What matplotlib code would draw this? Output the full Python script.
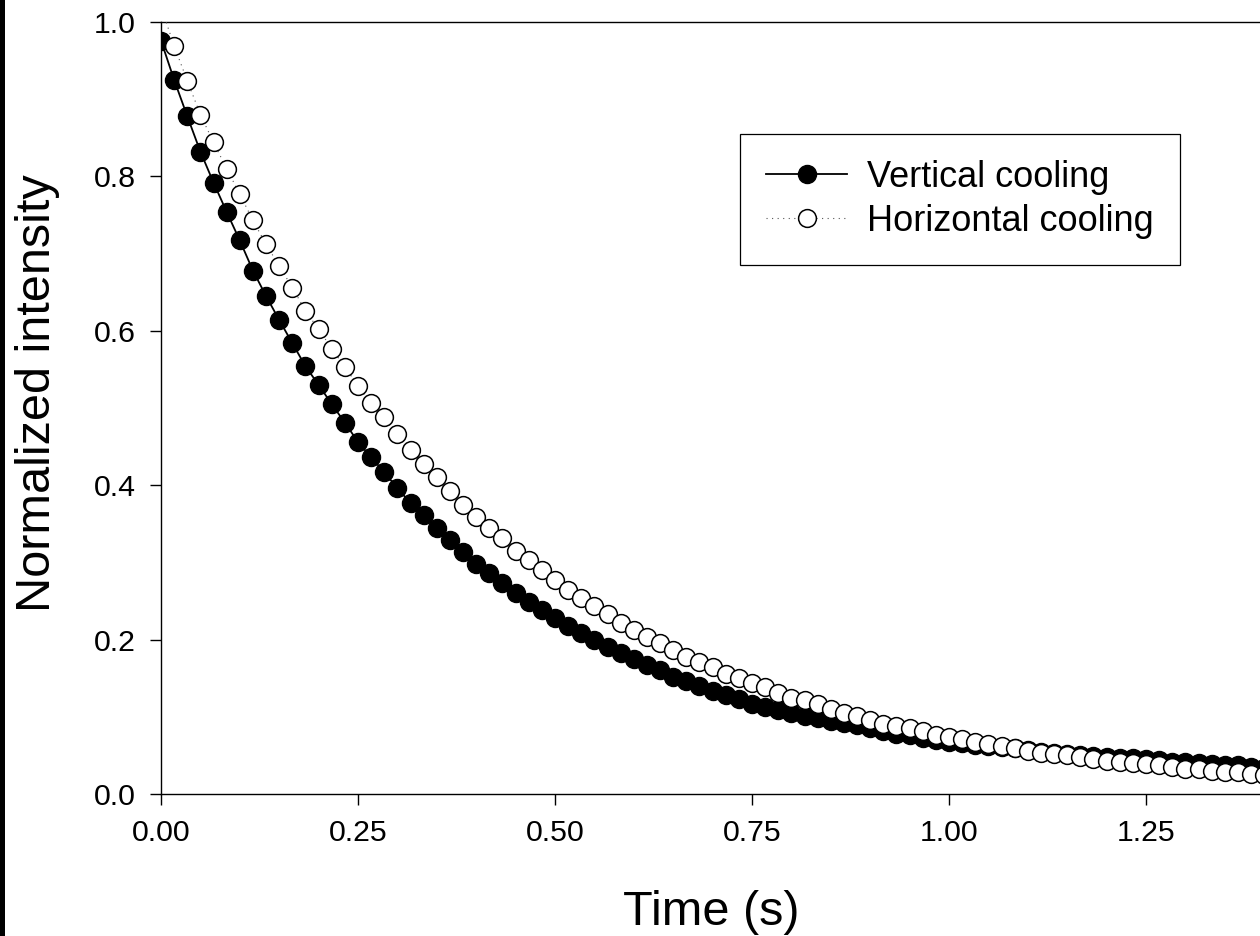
import numpy as np
import matplotlib
matplotlib.use("Agg")
import matplotlib.pyplot as plt
from matplotlib.patches import Rectangle
from matplotlib.ticker import FormatStrFormatter

# Normalized intensity recorded frame by frame (60 frames per second)
frame_rate = 60

vertical_cooling = [
    0.976, 0.925, 0.878, 0.832, 0.792, 0.754, 0.717, 0.678, 0.645, 0.614,
    0.584, 0.554, 0.530, 0.505, 0.481, 0.456, 0.436, 0.417, 0.396, 0.377,
    0.361, 0.344, 0.329, 0.313, 0.298, 0.286, 0.273, 0.260, 0.249, 0.238,
    0.228, 0.217, 0.208, 0.200, 0.191, 0.182, 0.175, 0.167, 0.160, 0.152,
    0.146, 0.140, 0.134, 0.128, 0.123, 0.117, 0.113, 0.109, 0.105, 0.101,
    0.098, 0.095, 0.092, 0.089, 0.085, 0.081, 0.078, 0.076, 0.073, 0.070,
    0.068, 0.066, 0.064, 0.062, 0.061, 0.059, 0.057, 0.055, 0.053, 0.052,
    0.050, 0.049, 0.048, 0.047, 0.046, 0.045, 0.044, 0.042, 0.041, 0.040,
    0.039, 0.038, 0.037, 0.035, 0.034,
]

horizontal_cooling = [
    1.020, 0.969, 0.924, 0.880, 0.844, 0.810, 0.777, 0.743, 0.712, 0.684,
    0.656, 0.626, 0.602, 0.577, 0.553, 0.529, 0.507, 0.488, 0.466, 0.445,
    0.427, 0.411, 0.393, 0.375, 0.359, 0.345, 0.331, 0.315, 0.303, 0.290,
    0.277, 0.264, 0.254, 0.244, 0.233, 0.222, 0.213, 0.204, 0.195, 0.186,
    0.178, 0.171, 0.164, 0.156, 0.150, 0.144, 0.138, 0.131, 0.125, 0.122,
    0.116, 0.110, 0.105, 0.101, 0.096, 0.091, 0.088, 0.085, 0.081, 0.077,
    0.074, 0.071, 0.068, 0.065, 0.062, 0.060, 0.056, 0.053, 0.052, 0.050,
    0.048, 0.045, 0.043, 0.042, 0.040, 0.039, 0.037, 0.035, 0.033, 0.032,
    0.030, 0.029, 0.028, 0.026, 0.025,
]

time_s = np.arange(len(vertical_cooling)) / frame_rate

x_ticks = [0.0, 0.25, 0.50, 0.75, 1.00, 1.25]
y_ticks = [0.0, 0.2, 0.4, 0.6, 0.8, 1.0]

plt.rcParams["font.family"] = ["Liberation Sans", "DejaVu Sans"]

W, H = 1260, 936
fig = plt.figure(figsize=(W / 100, H / 100), dpi=100)
fig.patch.set_facecolor("white")

# axes box in pixel terms: left 161, top 22, bottom 794, 788 px per second
x0, y_top, y_bot = 161, 22, 794
px_per_s = 788
xmax = 1.4
ax = fig.add_axes([x0 / W, (H - y_bot) / H, xmax * px_per_s / W, (y_bot - y_top) / H])

ax.plot(time_s, vertical_cooling, color="black", lw=1.3, ls="-",
        marker="o", ms=13.0, mfc="black", mec="black", mew=1.0,
        label="Vertical cooling", zorder=3)
ax.plot(time_s, horizontal_cooling, color="#555555", lw=0.8, ls=(0, (1, 4)),
        marker="o", ms=12.8, mfc="white", mec="black", mew=1.1,
        markevery=slice(1, None), label="Horizontal cooling", zorder=4)

ax.set_xlim(0, xmax)
ax.set_ylim(0, 1.0)
ax.set_xticks(x_ticks)
ax.set_yticks(y_ticks)
ax.xaxis.set_major_formatter(FormatStrFormatter("%.2f"))
ax.yaxis.set_major_formatter(FormatStrFormatter("%.1f"))
ax.tick_params(axis="both", direction="out", length=8, width=1.0,
               labelsize=21.8, pad=10, color="black")
for side in ("left", "bottom", "top", "right"):
    ax.spines[side].set_linewidth(1.0)
    ax.spines[side].set_color("black")

fig.text(711 / W, (H - 925) / H, "Time (s)", fontsize=35,
         ha="center", va="baseline")
fig.text(38 / W, (H - 393) / H, "Normalized intensity", fontsize=35,
         rotation=90, ha="center", va="center")

leg = ax.legend(loc="upper left", bbox_to_anchor=(740 / W, (H - 134) / H),
                bbox_transform=fig.transFigure, borderaxespad=0,
                fontsize=26, handlelength=2.25, handletextpad=0.55,
                borderpad=0.72, labelspacing=0.25, fancybox=False,
                frameon=True, framealpha=1.0, edgecolor="black")
leg.get_frame().set_linewidth(0.9)

# dark strip along the left edge
fig.patches.append(Rectangle((0, 0), 5 / W, 1, transform=fig.transFigure,
                             facecolor="black", edgecolor="none", zorder=10))

fig.savefig("out.png", dpi=100)
